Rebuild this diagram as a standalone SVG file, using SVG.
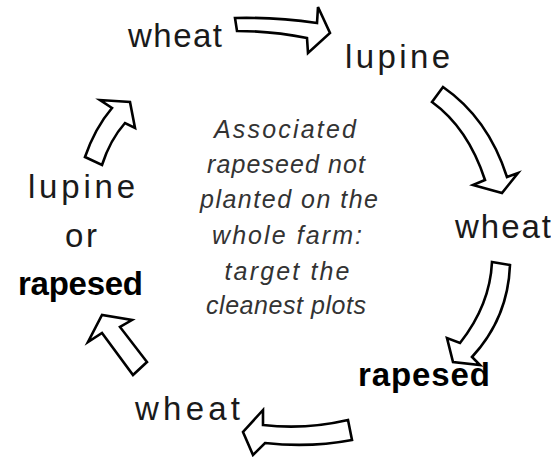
<svg xmlns="http://www.w3.org/2000/svg" width="551" height="457" viewBox="0 0 551 457">
<style>
.lbl{font-family:"Liberation Sans","DejaVu Sans",sans-serif;font-size:33px;fill:#1a1a1a;}
.bold{font-weight:bold;fill:#000;}
.note{font-family:"Liberation Sans","DejaVu Sans",sans-serif;font-size:25px;font-style:italic;fill:#333;text-anchor:middle;}
.arr{fill:#fff;stroke:#000;stroke-width:2.6;stroke-linejoin:miter;}
</style>
<rect width="551" height="457" fill="#fff"/>
<g id="connectors">
<path class="arr" d="M235,18 Q275,17 317,23 L318,7 L330,33 L308,53 L307,38 Q272,31 237,31 Z"/>
<path class="arr" d="M432,102 L443,87 Q488,118 507,177 L518,173 L502,193 L473,185 L485,180 Q468,128 432,102 Z"/>
<path class="arr" d="M492,262 L510,265 Q508,318 472,357 L480,365 L453,362 L447,338 L460,343 Q490,305 492,262 Z"/>
<path class="arr" d="M348,420 L352,440 Q310,448 265,443 L253,455 L243,432 L263,410 L263,425 Q305,430 348,420 Z"/>
<path class="arr" d="M147,362 L133,375 L102,333 L88,342 L102,315 L132,320 L120,327 Z"/>
<path class="arr" d="M85,157 L102,165 Q110,140 125,123 L135,128 L130,102 L100,100 L112,108 Q95,128 85,157 Z"/>
</g>
<g id="wheat1"><text class="lbl" x="128" y="47" textLength="94" lengthAdjust="spacing">wheat</text></g>
<g id="lupine1"><text class="lbl" x="345" y="68" textLength="105" lengthAdjust="spacing">lupine</text></g>
<g id="wheat2"><text class="lbl" x="455" y="238" textLength="96" lengthAdjust="spacing">wheat</text></g>
<g id="rapesed1"><text class="lbl bold" x="358" y="386" textLength="132" lengthAdjust="spacing">rapesed</text></g>
<g id="wheat3"><text class="lbl" x="135" y="420" textLength="105" lengthAdjust="spacing">wheat</text></g>
<g id="lupine-or-rapesed">
<text class="lbl" x="28" y="198" textLength="107" lengthAdjust="spacing">lupine</text>
<text class="lbl" x="65" y="247" textLength="32" lengthAdjust="spacing">or</text>
<text class="lbl bold" x="18" y="295" textLength="125" lengthAdjust="spacing">rapesed</text>
</g>
<g id="note">
<text class="note" x="285" y="138" textLength="142" lengthAdjust="spacing">Associated</text>
<text class="note" x="286" y="173" textLength="158" lengthAdjust="spacing">rapeseed not</text>
<text class="note" x="289" y="208" textLength="178" lengthAdjust="spacing">planted on the</text>
<text class="note" x="287" y="244" textLength="150" lengthAdjust="spacing">whole farm:</text>
<text class="note" x="287" y="280" textLength="125" lengthAdjust="spacing">target the</text>
<text class="note" x="286" y="314" textLength="160" lengthAdjust="spacing">cleanest plots</text>
</g>
</svg>
